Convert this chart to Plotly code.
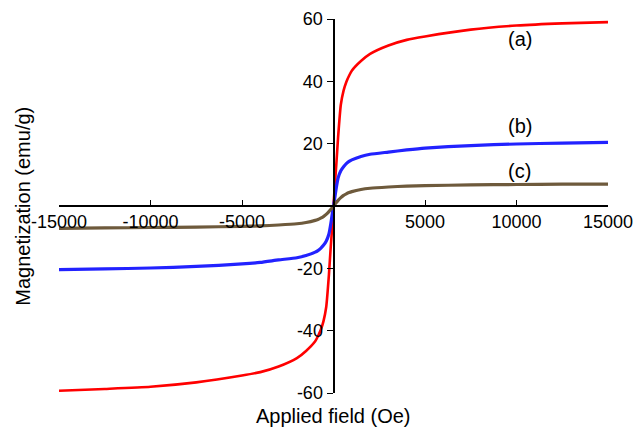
import plotly.graph_objects as go

field = [-15000, -12500, -10000, -7500, -5000, -4000, -3000, -2000, -1500, -1000, -850, -700, -550, -400, -250, -150, -75, 0,
         75, 150, 250, 400, 550, 700, 850, 1000, 1500, 2000, 3000, 4000, 5000, 7500, 10000, 12500, 15000]

mag_a = [-59.3, -58.7, -58.0, -56.6, -54.4, -53.3, -51.5, -48.8, -46.5, -43.4, -41.8, -39.8, -37.0, -32.5, -22.0, -13.0, -7.0, 0,
         7.0, 13.0, 22.0, 32.5, 37.0, 39.8, 41.8, 43.4, 46.5, 48.8, 51.5, 53.3, 54.4, 56.6, 57.9, 58.6, 59.0]
mag_b = [-20.4, -20.2, -19.9, -19.4, -18.6, -18.1, -17.3, -16.6, -15.9, -14.8, -14.3, -13.6, -12.6, -11.3, -9.0, -5.8, -2.8, 0,
         2.8, 5.8, 9.0, 11.3, 12.6, 13.6, 14.3, 14.8, 15.9, 16.6, 17.3, 18.0, 18.6, 19.4, 19.9, 20.2, 20.4]
mag_c = [-7.2, -7.05, -6.9, -6.75, -6.55, -6.4, -6.1, -5.7, -5.3, -4.6, -4.3, -3.9, -3.4, -2.7, -1.8, -1.1, -0.6, 0,
         0.6, 1.1, 1.8, 2.7, 3.4, 3.9, 4.3, 4.6, 5.3, 5.7, 6.1, 6.4, 6.55, 6.75, 6.9, 7.0, 7.05]

series = [("(a)", mag_a, "#ff0000", 2.6), ("(b)", mag_b, "#2222ff", 3.2), ("(c)", mag_c, "#6e5a3c", 3.2)]
label_pos = {"(a)": (10165, 53.6), "(b)": (10165, 25.7), "(c)": (10165, 11.2)}

x_ticks = [-15000, -10000, -5000, 5000, 10000, 15000]
y_ticks = [-60, -40, -20, 20, 40, 60]

FONT = "Liberation Sans, Arial"

fig = go.Figure()
for name, m, col, w in series:
    fig.add_trace(go.Scatter(x=field, y=m, mode="lines", line=dict(color=col, width=w, shape="spline", smoothing=0.5),
                             showlegend=False, name=name))
    lx, ly = label_pos[name]
    fig.add_annotation(x=lx, y=ly, text=name, showarrow=False, xref="x", yref="y",
                       font=dict(size=20, color="black", family=FONT))

fig.add_annotation(x=0.5, xref="paper", y=-0.062, yref="paper", text="Applied field (Oe)", showarrow=False,
                   yanchor="middle", font=dict(size=20, color="black", family=FONT))
fig.add_annotation(x=-0.066, xref="paper", y=0.5, yref="paper", text="Magnetization (emu/g)", showarrow=False,
                   textangle=-90, xanchor="center", yanchor="middle", font=dict(size=20, color="black", family=FONT))

fig.update_layout(
    width=636, height=428,
    margin=dict(l=59, r=28, t=19, b=35, autoexpand=False),
    paper_bgcolor="white", plot_bgcolor="white",
    font=dict(family=FONT, size=18, color="black"),
    xaxis=dict(range=[-15000, 15000], anchor="free", position=0.5, showgrid=False, zeroline=False, automargin=False,
               showline=True, linecolor="black", linewidth=1.5, ticks="inside", ticklen=5, tickcolor="black",
               tickvals=x_ticks, ticktext=[str(v) for v in x_ticks], tickfont=dict(size=18)),
    yaxis=dict(range=[-60, 60], anchor="free", position=0.5, showgrid=False, zeroline=False, automargin=False,
               showline=True, linecolor="black", linewidth=2, ticks="outside", ticklen=6, tickcolor="black",
               tickvals=y_ticks, ticktext=[str(v) for v in y_ticks], tickfont=dict(size=18)),
)

fig.write_html("out.html")
